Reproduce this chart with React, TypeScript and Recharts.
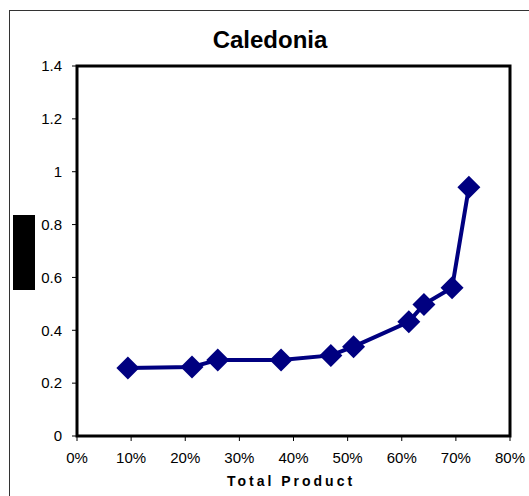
import { LineChart, Line, XAxis, YAxis, ReferenceArea } from 'recharts';

const shareOfProduct = [0.094, 0.2125, 0.26, 0.377, 0.469, 0.511, 0.613, 0.641, 0.693, 0.724];
const ratioValues = [0.257, 0.261, 0.288, 0.288, 0.305, 0.338, 0.432, 0.498, 0.561, 0.941];
const xTicks = [0, 0.1, 0.2, 0.3, 0.4, 0.5, 0.6, 0.7, 0.8];
const yTicks = [0, 0.2, 0.4, 0.6, 0.8, 1, 1.2, 1.4];

const data = shareOfProduct.map((x, i) => ({ x, y: ratioValues[i] }));

const font = 'Arial, "Liberation Sans", sans-serif';
const navy = '#000080';

const Diamond = (props: any) => {
  const { cx, cy } = props;
  if (cx == null || cy == null) return null;
  const r = 11.5;
  return (
    <polygon
      points={`${cx},${cy - r} ${cx + r},${cy} ${cx},${cy + r} ${cx - r},${cy}`}
      fill={navy}
    />
  );
};

export default function App() {
  return (
    <div style={{ position: 'absolute', left: 0, top: 0, width: 529, height: 496, background: '#fff', fontFamily: font }}>
      <div style={{ position: 'absolute', left: 9, top: 10, right: 0, bottom: 0, borderLeft: '1px solid #333', borderTop: '1px solid #333' }} />
      <div style={{ position: 'absolute', left: 13, top: 215, width: 22, height: 75, background: '#000' }} />
      <div style={{ position: 'absolute', left: 0, width: 540, top: 26, textAlign: 'center', fontSize: 24, fontWeight: 'bold', color: '#000' }}>
        Caledonia
      </div>
      <div style={{ position: 'absolute', left: 0, width: 582, top: 473, textAlign: 'center', fontSize: 14, fontWeight: 'bold', letterSpacing: 3, color: '#000' }}>
        Total Product
      </div>
      <div style={{ position: 'absolute', left: 0, top: 0 }}>
        <LineChart width={529} height={496} data={data} margin={{ top: 66, right: 19, bottom: 30, left: 17 }}>
          <XAxis
            type="number"
            dataKey="x"
            domain={[0, 0.8]}
            ticks={xTicks}
            tickFormatter={(v) => `${Math.round(Number(v) * 100)}%`}
            height={30}
            axisLine={false}
            tickSize={5}
            tickMargin={11}
            tickLine={{ stroke: '#000' }}
            tick={{ fontSize: 15, fill: '#000', fontFamily: font }}
            interval={0}
          />
          <YAxis
            type="number"
            domain={[0, 1.4]}
            ticks={yTicks}
            width={60}
            axisLine={false}
            tickSize={5}
            tickMargin={10}
            tickLine={{ stroke: '#000' }}
            tick={{ fontSize: 15, fill: '#000', fontFamily: font }}
            interval={0}
          />
          <ReferenceArea x1={0} x2={0.8} y1={0} y2={1.4} fill="none" stroke="#000" strokeWidth={3} ifOverflow="visible" />
          <Line
            dataKey="y"
            stroke={navy}
            strokeWidth={4}
            dot={<Diamond />}
            activeDot={false}
            isAnimationActive={false}
          />
        </LineChart>
      </div>
    </div>
  );
}
